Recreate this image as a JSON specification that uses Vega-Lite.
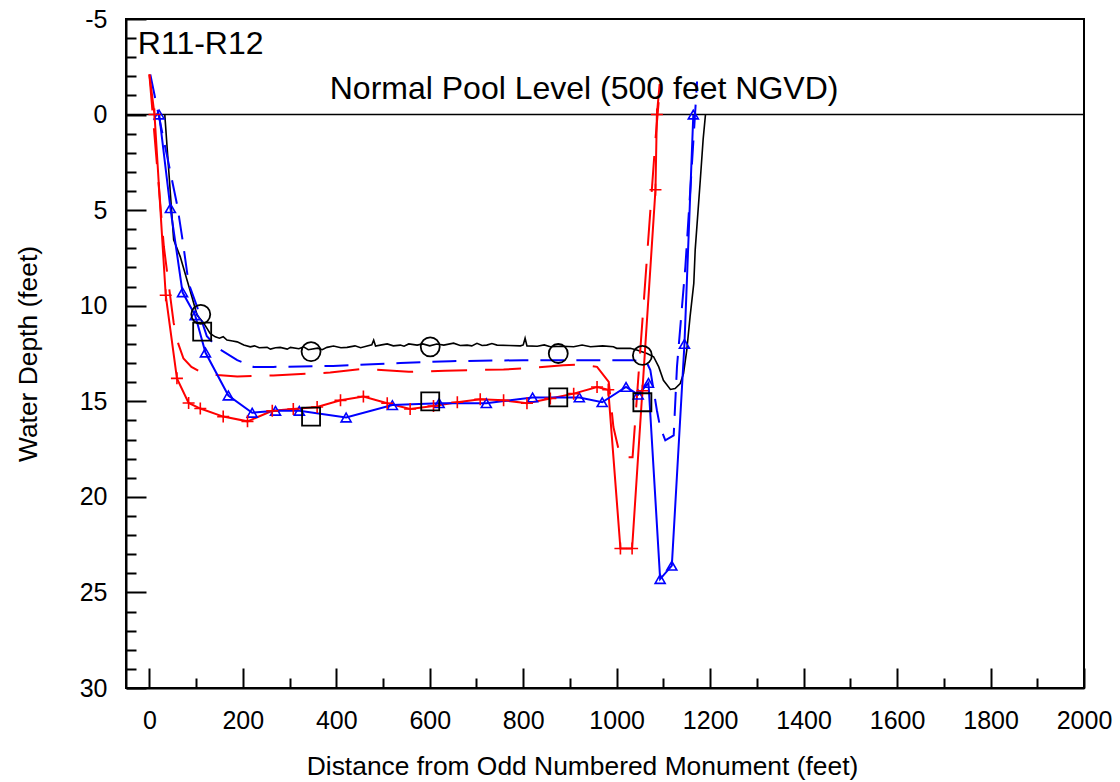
{
  "$schema": "https://vega.github.io/schema/vega-lite/v6.json",
  "width": 958,
  "height": 669,
  "autosize": {"type": "none"},
  "padding": {"left": 126, "top": 19, "right": 36, "bottom": 94},
  "background": "white",
  "config": {
    "font": "Liberation Sans",
    "view": {"stroke": "black", "strokeWidth": 2},
    "axis": {
      "grid": false,
      "domainColor": "black",
      "domainWidth": 2,
      "tickColor": "black",
      "tickWidth": 2,
      "labelColor": "black",
      "titleColor": "black",
      "labelFont": "Liberation Sans",
      "titleFont": "Liberation Sans",
      "labelFontSize": 25,
      "titleFontSize": 26.4,
      "titleFontWeight": "normal",
      "labelFlush": false,
      "labelOverlap": false
    }
  },
  "datasets": {
    "pool": [{"d": 0}],
    "black": [
      {"x": 33, "d": 0}, {"x": 52, "d": 6.55}, {"x": 66, "d": 7.43}, {"x": 91, "d": 9.53}, {"x": 102, "d": 10.49},
      {"x": 116, "d": 10.9}, {"x": 130, "d": 11.45}, {"x": 141, "d": 11.63}, {"x": 150, "d": 11.7}, {"x": 158, "d": 11.62}, {"x": 166, "d": 11.8}, {"x": 178, "d": 11.85}, {"x": 188, "d": 11.89},
      {"x": 202, "d": 12.06}, {"x": 216, "d": 12.15}, {"x": 225, "d": 12.1}, {"x": 235, "d": 12.2}, {"x": 252, "d": 12.18}, {"x": 259, "d": 12.27},
      {"x": 270, "d": 12.2}, {"x": 280, "d": 12.18}, {"x": 295, "d": 12.27}, {"x": 302, "d": 12.18}, {"x": 320, "d": 12.25}, {"x": 330, "d": 12.15}, {"x": 340, "d": 12.3},
      {"x": 360, "d": 12.22}, {"x": 370, "d": 12.3}, {"x": 380, "d": 12.18}, {"x": 394, "d": 12.11}, {"x": 410, "d": 12.2}, {"x": 423, "d": 12.18},
      {"x": 440, "d": 12.1}, {"x": 452, "d": 12.2}, {"x": 466, "d": 12.11}, {"x": 476, "d": 12.05}, {"x": 480, "d": 11.8},
      {"x": 484, "d": 12.11}, {"x": 497, "d": 12.05}, {"x": 509, "d": 12.0}, {"x": 522, "d": 12.1}, {"x": 537, "d": 12.06}, {"x": 545, "d": 12.12}, {"x": 555, "d": 12.0},
      {"x": 573, "d": 12.06}, {"x": 585, "d": 12.0}, {"x": 600, "d": 12.1}, {"x": 615, "d": 12.0}, {"x": 630, "d": 12.06}, {"x": 651, "d": 11.96}, {"x": 665, "d": 12.08},
      {"x": 680, "d": 12.06}, {"x": 690, "d": 12.1}, {"x": 701, "d": 11.97}, {"x": 712, "d": 12.08}, {"x": 722, "d": 12.06}, {"x": 733, "d": 11.98}, {"x": 744, "d": 12.06}, {"x": 770, "d": 12.08},
      {"x": 794, "d": 12.1}, {"x": 800, "d": 12.05}, {"x": 804, "d": 11.7}, {"x": 808, "d": 12.1}, {"x": 830, "d": 12.12}, {"x": 845, "d": 12.05},
      {"x": 858, "d": 12.15}, {"x": 885, "d": 12.12}, {"x": 908, "d": 12.15}, {"x": 926, "d": 12.06}, {"x": 944, "d": 12.15},
      {"x": 970, "d": 12.1}, {"x": 993, "d": 12.15}, {"x": 1000, "d": 12.23}, {"x": 1029, "d": 12.23}, {"x": 1043, "d": 12.32},
      {"x": 1065, "d": 12.5}, {"x": 1079, "d": 12.67}, {"x": 1090, "d": 13.2}, {"x": 1100, "d": 13.9}, {"x": 1115, "d": 14.38},
      {"x": 1125, "d": 14.33}, {"x": 1136, "d": 14.07}, {"x": 1143, "d": 13.55}, {"x": 1150, "d": 12.32}, {"x": 1157, "d": 10.58},
      {"x": 1165, "d": 8.83}, {"x": 1168, "d": 7.08}, {"x": 1179, "d": 3.4}, {"x": 1185, "d": 1.3}, {"x": 1190, "d": 0}
    ],
    "blueDashed": [
      {"x": 2, "d": -2.1}, {"x": 60, "d": 4.8}, {"x": 71, "d": 6.55}, {"x": 84, "d": 8.83}, {"x": 102, "d": 10.05},
      {"x": 123, "d": 11.6}, {"x": 148, "d": 12.24}, {"x": 188, "d": 12.85}, {"x": 223, "d": 13.2}, {"x": 265, "d": 13.2},
      {"x": 393, "d": 13.15}, {"x": 537, "d": 13.0}, {"x": 644, "d": 12.9}, {"x": 800, "d": 12.85}, {"x": 1036, "d": 12.85},
      {"x": 1065, "d": 13.0}, {"x": 1072, "d": 13.37}, {"x": 1086, "d": 15.47}, {"x": 1093, "d": 16.35}, {"x": 1104, "d": 17.04},
      {"x": 1122, "d": 16.78}, {"x": 1129, "d": 13.2}, {"x": 1147, "d": 7.95}, {"x": 1160, "d": 3.0}, {"x": 1172, "d": -1.73}
    ],
    "redDashed": [
      {"x": 0, "d": -2.1}, {"x": 31, "d": 6.9}, {"x": 41, "d": 8.83}, {"x": 52, "d": 10.9}, {"x": 62, "d": 12.0},
      {"x": 73, "d": 12.76}, {"x": 90, "d": 13.2}, {"x": 109, "d": 13.46}, {"x": 145, "d": 13.63}, {"x": 188, "d": 13.7},
      {"x": 265, "d": 13.65}, {"x": 387, "d": 13.5}, {"x": 458, "d": 13.3}, {"x": 555, "d": 13.46}, {"x": 633, "d": 13.4},
      {"x": 680, "d": 13.37}, {"x": 758, "d": 13.34}, {"x": 801, "d": 13.28}, {"x": 886, "d": 13.11}, {"x": 922, "d": 13.07},
      {"x": 958, "d": 13.2}, {"x": 983, "d": 13.98}, {"x": 993, "d": 16.35}, {"x": 1001, "d": 17.2}, {"x": 1008, "d": 17.93},
      {"x": 1034, "d": 17.93}, {"x": 1066, "d": 7.08}, {"x": 1083, "d": 1.3}, {"x": 1093, "d": -1.57}
    ],
    "redSolid": [
      {"x": 0, "d": -2.1}, {"x": 11, "d": 0}, {"x": 35, "d": 9.45}, {"x": 59, "d": 13.8}, {"x": 84, "d": 15.09},
      {"x": 109, "d": 15.38}, {"x": 158, "d": 15.8}, {"x": 210, "d": 16.05}, {"x": 263, "d": 15.5}, {"x": 308, "d": 15.4},
      {"x": 359, "d": 15.3}, {"x": 409, "d": 14.95}, {"x": 458, "d": 14.75}, {"x": 509, "d": 15.1}, {"x": 558, "d": 15.4},
      {"x": 608, "d": 15.25}, {"x": 659, "d": 15.05}, {"x": 708, "d": 14.9}, {"x": 758, "d": 14.95}, {"x": 808, "d": 15.1},
      {"x": 858, "d": 14.85}, {"x": 908, "d": 14.6}, {"x": 958, "d": 14.25}, {"x": 982, "d": 14.4}, {"x": 1008, "d": 22.7},
      {"x": 1033, "d": 22.7}, {"x": 1055, "d": 14.45}, {"x": 1083, "d": 3.93}, {"x": 1086, "d": 0}, {"x": 1092, "d": -1.6}
    ],
    "blueSolid": [
      {"x": 21, "d": 0}, {"x": 45, "d": 4.9}, {"x": 71, "d": 9.3}, {"x": 98, "d": 10.5}, {"x": 120, "d": 12.45},
      {"x": 169, "d": 14.7}, {"x": 220, "d": 15.6}, {"x": 270, "d": 15.5}, {"x": 321, "d": 15.5}, {"x": 421, "d": 15.85},
      {"x": 520, "d": 15.2}, {"x": 620, "d": 15.1}, {"x": 721, "d": 15.1}, {"x": 820, "d": 14.8}, {"x": 920, "d": 14.8},
      {"x": 969, "d": 15.05}, {"x": 1020, "d": 14.25}, {"x": 1046, "d": 14.65}, {"x": 1068, "d": 14.04}, {"x": 1093, "d": 24.3},
      {"x": 1118, "d": 23.6}, {"x": 1145, "d": 12.0}, {"x": 1164, "d": 0}
    ],
    "circles": [
      {"x": 110, "d": 10.45}, {"x": 346, "d": 12.4}, {"x": 601, "d": 12.15}, {"x": 875, "d": 12.5}, {"x": 1055, "d": 12.6}
    ],
    "squares": [
      {"x": 113, "d": 11.36}, {"x": 346, "d": 15.8}, {"x": 601, "d": 15.0}, {"x": 875, "d": 14.8}, {"x": 1055, "d": 15.05}
    ],
    "labels": [
      {"x": -24.6, "d": -3.15, "label": "R11-R12"},
      {"x": 386, "d": -0.82, "label": "Normal Pool Level (500 feet NGVD)"}
    ]
  },
  "layer": [
    {
      "data": {"name": "pool"},
      "mark": {"type": "rule", "color": "black", "strokeWidth": 1.6},
      "encoding": {
        "y": {"field": "d", "type": "quantitative", "scale": {"domain": [-5, 30], "nice": false, "zero": false, "reverse": true}, "axis": null}
      }
    },
    {
      "data": {"name": "black"},
      "mark": {"type": "line", "color": "black", "strokeWidth": 1.6, "clip": true},
      "encoding": {
        "x": {"field": "x", "type": "quantitative", "scale": {"domain": [-50, 2000], "nice": false, "zero": false},
          "axis": {"orient": "bottom", "values": [0, 200, 400, 600, 800, 1000, 1200, 1400, 1600, 1800, 2000], "labelExpr": "'' + datum.value", "ticks": false, "tickSize": 0, "labelPadding": 20, "title": "Distance from Odd Numbered Monument (feet)", "titlePadding": 20, "titleX": 456}},
        "y": {"field": "d", "type": "quantitative", "scale": {"domain": [-5, 30], "nice": false, "zero": false, "reverse": true},
          "axis": {"orient": "left", "values": [-5, 0, 5, 10, 15, 20, 25, 30], "labelExpr": "'' + datum.value", "ticks": false, "tickSize": 0, "labelPadding": 19, "title": "Water Depth (feet)", "titlePadding": 37}}
      }
    },
    {
      "data": {"name": "blueDashed"},
      "mark": {"type": "line", "color": "#0000ff", "strokeWidth": 2, "strokeDash": [24, 12], "clip": true},
      "encoding": {
        "x": {"field": "x", "type": "quantitative", "scale": {"domain": [-50, 2000], "nice": false, "zero": false},
          "axis": {"orient": "top", "offset": -669, "values": [0, 200, 400, 600, 800, 1000, 1200, 1400, 1600, 1800, 2000], "tickSize": 20, "labels": false, "domain": false, "title": null}},
        "y": {"field": "d", "type": "quantitative", "scale": {"domain": [-5, 30], "nice": false, "zero": false, "reverse": true},
          "axis": {"orient": "right", "offset": -958, "values": [-5, 0, 5, 10, 15, 20, 25, 30], "tickSize": 20, "labels": false, "domain": false, "title": null}}
      }
    },
    {
      "data": {"name": "redDashed"},
      "mark": {"type": "line", "color": "#ff0000", "strokeWidth": 2, "strokeDash": [36, 18], "clip": true},
      "encoding": {
        "x": {"field": "x", "type": "quantitative", "scale": {"domain": [-50, 2000], "nice": false, "zero": false},
          "axis": {"orient": "top", "offset": -669, "values": [100, 300, 500, 700, 900, 1100, 1300, 1500, 1700, 1900], "tickSize": 10, "labels": false, "domain": false, "title": null}},
        "y": {"field": "d", "type": "quantitative", "scale": {"domain": [-5, 30], "nice": false, "zero": false, "reverse": true},
          "axis": {"orient": "right", "offset": -958, "values": [-4, -3, -2, -1, 1, 2, 3, 4, 6, 7, 8, 9, 11, 12, 13, 14, 16, 17, 18, 19, 21, 22, 23, 24, 26, 27, 28, 29], "tickSize": 10, "labels": false, "domain": false, "title": null}}
      }
    },
    {
      "data": {"name": "redSolid"},
      "mark": {"type": "line", "color": "#ff0000", "strokeWidth": 2, "clip": true},
      "encoding": {
        "x": {"field": "x", "type": "quantitative", "scale": {"domain": [-50, 2000], "nice": false, "zero": false}, "axis": null},
        "y": {"field": "d", "type": "quantitative", "scale": {"domain": [-5, 30], "nice": false, "zero": false, "reverse": true}, "axis": null}
      }
    },
    {
      "data": {"name": "blueSolid"},
      "mark": {"type": "line", "color": "#0000ff", "strokeWidth": 2, "clip": true},
      "encoding": {
        "x": {"field": "x", "type": "quantitative", "scale": {"domain": [-50, 2000], "nice": false, "zero": false}, "axis": null},
        "y": {"field": "d", "type": "quantitative", "scale": {"domain": [-5, 30], "nice": false, "zero": false, "reverse": true}, "axis": null}
      }
    },
    {
      "data": {"name": "blueSolid"},
      "mark": {"type": "point", "shape": "triangle-up", "size": 100, "filled": false, "color": "#0000ff", "strokeWidth": 1.6, "opacity": 1},
      "encoding": {
        "x": {"field": "x", "type": "quantitative", "scale": {"domain": [-50, 2000], "nice": false, "zero": false}, "axis": null},
        "y": {"field": "d", "type": "quantitative", "scale": {"domain": [-5, 30], "nice": false, "zero": false, "reverse": true}, "axis": null}
      }
    },
    {
      "data": {"name": "redSolid"},
      "transform": [{"filter": "datum.d >= -0.5"}],
      "mark": {"type": "point", "shape": "M-1,0H1M0,-1V1", "size": 144, "filled": false, "color": "#ff0000", "strokeWidth": 1.6, "opacity": 1},
      "encoding": {
        "x": {"field": "x", "type": "quantitative", "scale": {"domain": [-50, 2000], "nice": false, "zero": false}, "axis": null},
        "y": {"field": "d", "type": "quantitative", "scale": {"domain": [-5, 30], "nice": false, "zero": false, "reverse": true}, "axis": null}
      }
    },
    {
      "data": {"name": "circles"},
      "mark": {"type": "point", "shape": "circle", "size": 361, "filled": false, "color": "black", "strokeWidth": 1.8, "opacity": 1},
      "encoding": {
        "x": {"field": "x", "type": "quantitative", "scale": {"domain": [-50, 2000], "nice": false, "zero": false}, "axis": null},
        "y": {"field": "d", "type": "quantitative", "scale": {"domain": [-5, 30], "nice": false, "zero": false, "reverse": true}, "axis": null}
      }
    },
    {
      "data": {"name": "squares"},
      "mark": {"type": "point", "shape": "square", "size": 324, "filled": false, "color": "black", "strokeWidth": 1.8, "opacity": 1},
      "encoding": {
        "x": {"field": "x", "type": "quantitative", "scale": {"domain": [-50, 2000], "nice": false, "zero": false}, "axis": null},
        "y": {"field": "d", "type": "quantitative", "scale": {"domain": [-5, 30], "nice": false, "zero": false, "reverse": true}, "axis": null}
      }
    },
    {
      "data": {"name": "labels"},
      "mark": {"type": "text", "align": "left", "baseline": "alphabetic", "font": "Liberation Sans", "fontSize": 32, "color": "black"},
      "encoding": {
        "x": {"field": "x", "type": "quantitative", "scale": {"domain": [-50, 2000], "nice": false, "zero": false}, "axis": null},
        "y": {"field": "d", "type": "quantitative", "scale": {"domain": [-5, 30], "nice": false, "zero": false, "reverse": true}, "axis": null},
        "text": {"field": "label", "type": "nominal"}
      }
    }
  ],
  "resolve": {"axis": {"x": "independent", "y": "independent"}}
}
